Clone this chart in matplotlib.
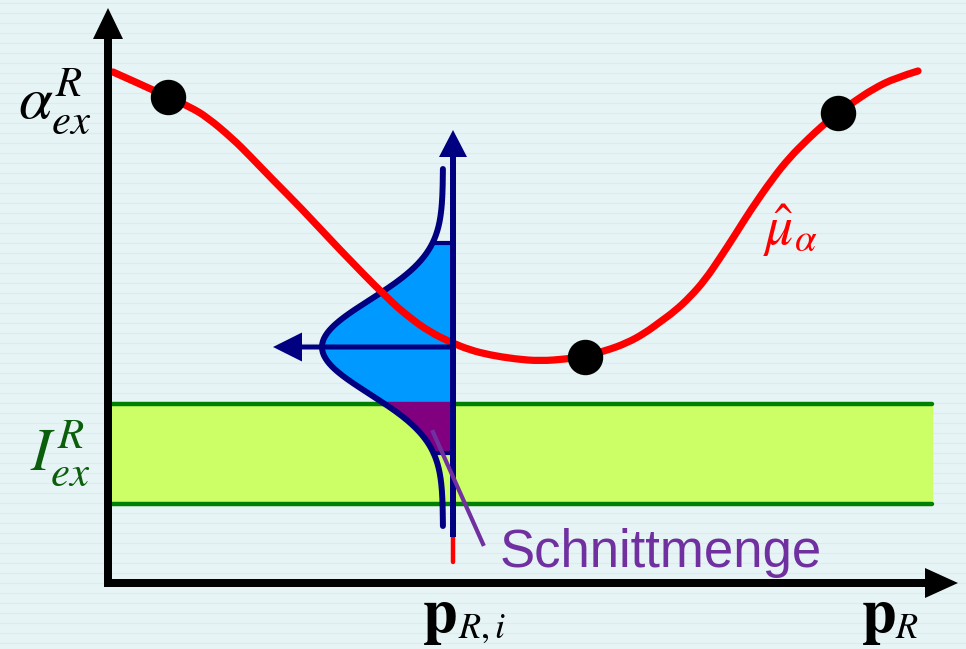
import matplotlib
matplotlib.use("Agg")
import matplotlib.pyplot as plt
import numpy as np
from matplotlib.patches import FancyArrow, PathPatch
from matplotlib.path import Path

plt.rcParams["mathtext.fontset"] = "stix"

# estimated regression curve mu_alpha (x, y in drawing units, y grows downwards)
curve_x = [113, 140, 168, 190, 207, 233, 250, 273, 300, 340, 387, 410, 430,
           450, 470, 490, 515, 540, 567, 585, 605, 627, 645, 660, 675, 690,
           705, 720, 735, 750, 773, 790, 807, 822, 838, 855, 873, 895, 918]
curve_y = [72, 84, 97, 107, 117, 139, 156, 180, 207, 250, 298, 318, 332,
           342, 350, 355, 359, 361, 359, 356, 351, 343, 333, 322, 311, 297,
           280, 258, 235, 211, 178, 157, 140, 126, 113, 101, 89, 78, 71]

# sample points on the curve
dots_x = [168, 585, 838]
dots_y = [97, 357, 113]

# excitation interval I_ex^R
band_top = 404
band_bottom = 504
band_left = 112
band_right = 932

# distribution at p_R,i
p_i = 453
gauss_mean = 347
gauss_sigma = 47
gauss_amp = 121
gauss_base = 443
gauss_span = (169, 526)
blue_span = (243, 401)
purple_span = (401, 453)


def smooth_path(xs, ys):
    # quadratic segments through the midpoints, corners become rounded
    pts = np.column_stack([xs, ys]).astype(float)
    verts = [pts[0]]
    codes = [Path.MOVETO]
    for k in range(1, len(pts) - 1):
        mid = (pts[k] + pts[k + 1]) / 2
        if k == len(pts) - 2:
            mid = pts[k + 1]
        verts += [pts[k], mid]
        codes += [Path.CURVE3, Path.CURVE3]
    return Path(verts, codes)


def gauss(y):
    return gauss_base - gauss_amp * np.exp(-(y - gauss_mean) ** 2 / (2 * gauss_sigma ** 2))


fig = plt.figure(figsize=(9.66, 6.49), dpi=100)
fig.patch.set_facecolor("#E7F4F5")
ax = fig.add_axes([0, 0, 1, 1])
ax.set_xlim(0, 966)
ax.set_ylim(649, 0)
ax.axis("off")

# faint striped background
for yy in np.arange(3, 649, 10):
    ax.axhline(yy, color="#D9ECEF", lw=0.8, zorder=0)

# interval band
ax.fill_between([band_left, band_right], band_top, band_bottom,
                color="#CCFF66", zorder=1)
for yy in (band_top, band_bottom):
    ax.plot([band_left, band_right], [yy, yy], color="#008000", lw=3.2,
            solid_capstyle="round", zorder=2)

yb = np.linspace(*blue_span, 200)
ax.fill_betweenx(yb, gauss(yb), p_i, color="#0099FF", lw=0, zorder=3)
yp = np.linspace(*purple_span, 100)
ax.fill_betweenx(yp, gauss(yp), p_i, color="#800080", lw=0, zorder=3)
for yy in (blue_span[0], purple_span[1]):
    ax.plot([gauss(yy), p_i], [yy, yy], color="#000080", lw=3, zorder=4)

yg = np.linspace(*gauss_span, 400)
ax.plot(gauss(yg), yg, color="#000080", lw=4.3, solid_capstyle="round",
        zorder=4)

# regression curve
ax.add_patch(PathPatch(smooth_path(curve_x, curve_y), fill=False,
                       edgecolor="#FF0000", lw=5.2, capstyle="round",
                       joinstyle="round", zorder=5))
ax.plot([p_i, p_i], [340, 562], color="#FF0000", lw=3.2,
        solid_capstyle="round", zorder=5)

# coordinate axes
ax.add_patch(FancyArrow(108, 587, 0, -579, width=8, head_width=30,
                        head_length=31, length_includes_head=True,
                        color="black", lw=0, zorder=6))
ax.add_patch(FancyArrow(104, 583, 854, 0, width=8, head_width=30,
                        head_length=33, length_includes_head=True,
                        color="black", lw=0, zorder=6))

# distribution axes
ax.add_patch(FancyArrow(p_i, 537, 0, -407, width=6, head_width=28,
                        head_length=27, length_includes_head=True,
                        color="#000080", lw=0, zorder=6))
ax.add_patch(FancyArrow(p_i, gauss_mean, -180, 0, width=5, head_width=29,
                        head_length=29, length_includes_head=True,
                        color="#000080", lw=0, zorder=6))

ax.scatter(dots_x, dots_y, s=600, color="black", zorder=7)

# pointer to the intersection
ax.plot([433, 483], [432, 544], color="#7030A0", lw=3, zorder=8)

ax.text(18, 118, r"$\alpha_{ex}^{R}$", fontsize=44, color="black",
        ha="left", va="baseline", zorder=9)
ax.text(30, 470, r"$I_{ex}^{R}$", fontsize=44, color="#0B5E0B",
        ha="left", va="baseline", zorder=9)
ax.text(763, 245, r"$\hat{\mu}_{\alpha}$", fontsize=40, color="#FF0000",
        ha="left", va="baseline", zorder=9)

# axis captions: bold vector p with italic subscript
ax.text(422, 632, r"$\mathbf{p}$", fontsize=45, color="black",
        ha="left", va="baseline", zorder=9)
ax.text(458, 638, r"$R,i$", fontsize=26, color="black",
        ha="left", va="baseline", zorder=9)
ax.text(861, 632, r"$\mathbf{p}$", fontsize=45, color="black",
        ha="left", va="baseline", zorder=9)
ax.text(895, 638, r"$R$", fontsize=26, color="black",
        ha="left", va="baseline", zorder=9)

ax.text(500, 567, "Schnittmenge", fontsize=38, color="#7030A0",
        family="Liberation Sans", ha="left", va="baseline", zorder=9)

fig.savefig("out.png", dpi=100, facecolor=fig.get_facecolor())
